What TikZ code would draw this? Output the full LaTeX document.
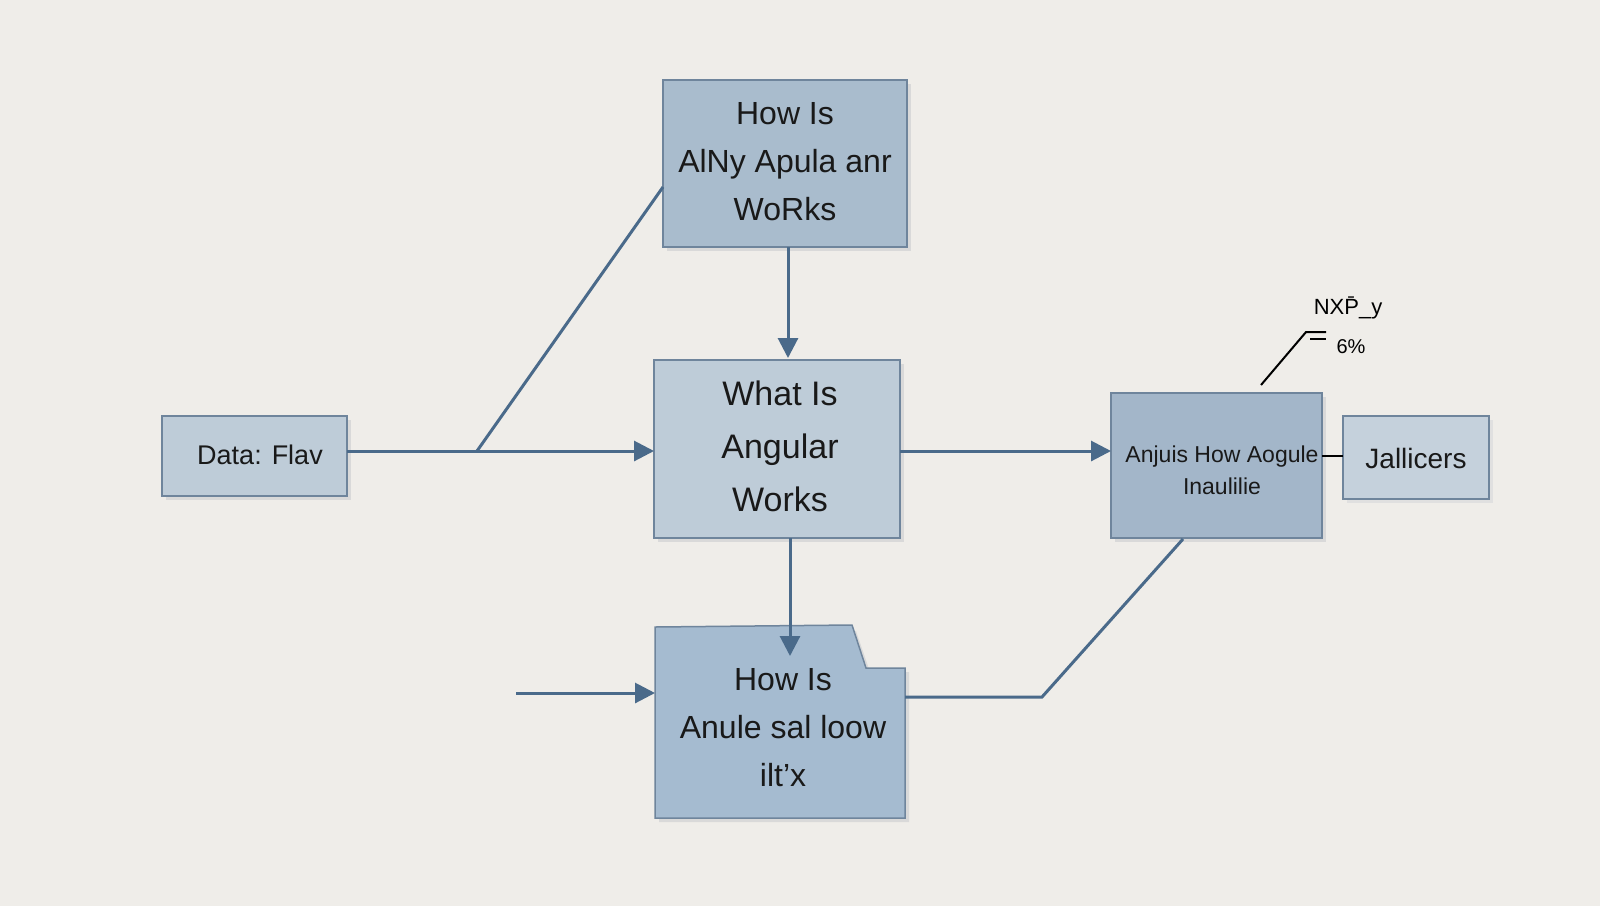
\documentclass[tikz,border=0pt]{standalone}
\usepackage{fontspec}
\setmainfont{Liberation Sans}
\usetikzlibrary{arrows.meta}
\definecolor{bg}{HTML}{EFEDE9}
\definecolor{edge}{HTML}{6F859C}
\definecolor{ln}{HTML}{4A6A8A}
\begin{document}
\begin{tikzpicture}[x=1pt,y=-1pt,
  box/.style={draw=edge,line width=1.5pt},
  con/.style={draw=ln,line width=3pt},
  arr/.style={con,-{Triangle[length=20pt,width=20pt]}},
  txt/.style={font=\fontsize{32}{48}\selectfont,align=center,text=black!90}]
\fill[bg] (0,0) rectangle (1600,906);
\useasboundingbox (0,0) rectangle (1600,906);
% boxes
\filldraw[fill=black!15,draw=none] (667,84) rectangle (911,251);
\filldraw[box,fill={rgb,255:red,169;green,188;blue,205}] (663,80) rectangle (907,247);
\node[txt] (top) at (785,162) {How Is\\AlNy Apula anr\\WoRks};
\filldraw[fill=black!15,draw=none] (658,364) rectangle (904,542);
\filldraw[box,fill={rgb,255:red,190;green,204;blue,216}] (654,360) rectangle (900,538);
\node[txt,font=\fontsize{34}{53}\selectfont] (mid) at (780,446) {What Is\\Angular\\Works};
\filldraw[fill=black!15,draw=none] (659,631) -- (856,631) -- (870,672) -- (909,672) -- (909,822) -- (659,822) -- cycle;
\filldraw[box,fill={rgb,255:red,165;green,187;blue,208}] (655,627) -- (852,625) -- (866,668) -- (905,668) -- (905,818) -- (655,818) -- cycle;
\node[txt] (bot) at (783,728) {How Is\\Anule sal loow\\ilt'x};
\filldraw[fill=black!15,draw=none] (166,420) rectangle (351,500);
\filldraw[box,fill={rgb,255:red,190;green,204;blue,216}] (162,416) rectangle (347,496);
\node[txt,font=\fontsize{27}{30}\selectfont] (data) at (260,455) {Data: Flav};
\filldraw[fill=black!15,draw=none] (1115,397) rectangle (1326,542);
\filldraw[box,fill={rgb,255:red,163;green,182;blue,201}] (1111,393) rectangle (1322,538);
\node[txt,font=\fontsize{23}{32}\selectfont] (rt) at (1222,470) {Anjuis How Aogule\\Inaulilie};
\filldraw[fill=black!12,draw=none] (1347,420) rectangle (1493,503);
\filldraw[box,fill={rgb,255:red,197;green,209;blue,220}] (1343,416) rectangle (1489,499);
\node[txt,font=\fontsize{28}{30}\selectfont] (jal) at (1416,458) {Jallicers};
% connectors
\coordinate (br) at (477,451);
\draw[con] (347,451) -- (br);
\draw[arr] (br) -- (654,451);
\draw[con] (br) -- (663,187);
\draw[arr] (788,247) -- (788,358);
\draw[arr] (790,538) -- (790,656);
\coordinate (lin) at (516,693);
\draw[arr] (lin) -- (655,693);
\draw[arr] (900,451) -- (1111,451);
\draw[con] (905,697) -- (1042,697) -- (1183,539);
\draw[black,line width=2pt] (1322,456) -- (1343,456);
% label
\draw[black,line width=2pt] (1261,385) -- (1306,332) -- (1326,332);
\draw[black,line width=2pt] (1310,339) -- (1326,339);
\node[font=\fontsize{22}{24}\selectfont] (lab) at (1348,308) {NX\={P}\_y};
\node[font=\fontsize{20}{24}\selectfont] (pct) at (1351,347) {6\%};
\end{tikzpicture}
\end{document}
